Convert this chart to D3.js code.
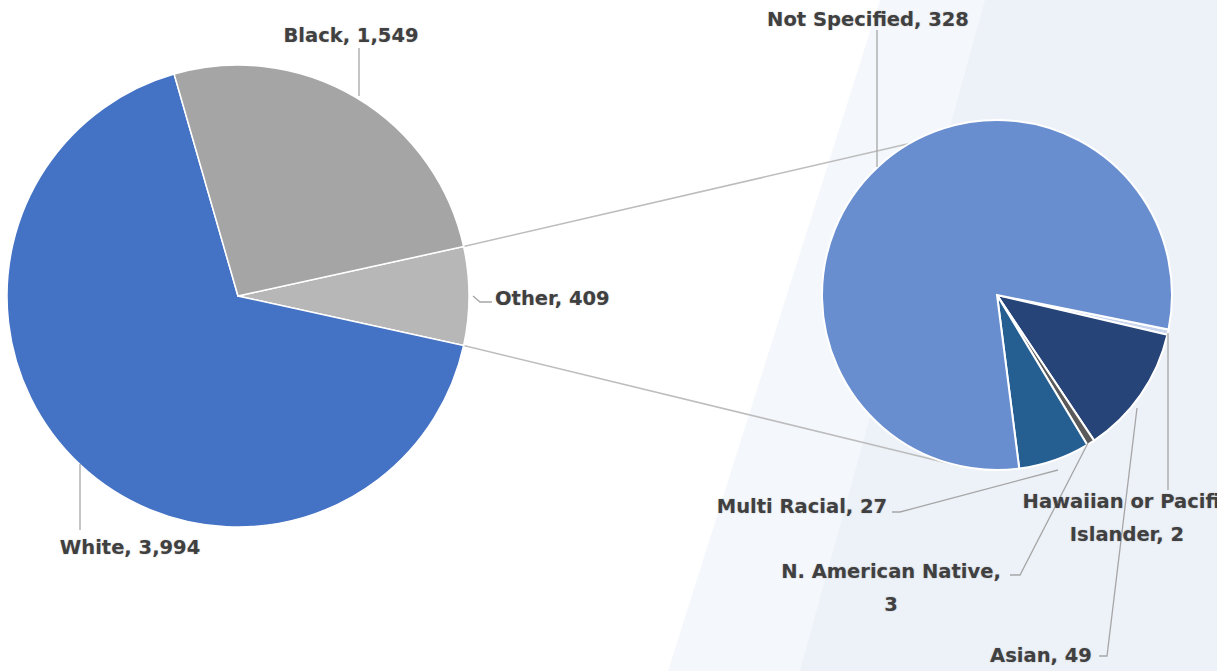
<!DOCTYPE html>
<html>
<head>
<meta charset="utf-8">
<script src="https://cdn.jsdelivr.net/npm/d3@7"></script>
<style>
  body { margin: 0; background: #fff; }
  svg { display: block; }
  text { font-family: "DejaVu Sans", "Open Sans", sans-serif; font-weight: 700; font-size: 19.5px; fill: #404040;
         text-shadow: 0 0 2px rgba(0,0,0,0.2); }
</style>
</head>
<body>
<svg width="1217" height="671"></svg>
<script>
// main pie: "Other" goes first so it sits on the right, facing the second pie
var mainLabels = ['Other', 'White', 'Black'],
    mainValues = [409, 3994, 1549],
    mainColors = ['#b7b7b7', '#4472c4', '#a5a5a5'];

// breakdown of "Other", clockwise from the split line
var subLabels = ['Hawaiian or Pacific Islander', 'Asian', 'N. American Native', 'Multi Racial', 'Not Specified'],
    subValues = [2, 49, 3, 27, 328],
    subColors = ['#c9d6ee', '#264478', '#5a5a5a', '#255e91', '#698ed0'];

var svg = d3.select('svg'),
    W = 1217, H = 671;

// soft diagonal bands in the background
svg.append('polygon').attr('points', '880,0 1217,0 1217,671 668,671').attr('fill', '#f4f7fb');
svg.append('polygon').attr('points', '985,0 1217,0 1217,671 800,671').attr('fill', '#edf1f8');

var c1 = [238, 296], r1 = 231,
    c2 = [997, 295], r2 = 175,
    rad = Math.PI / 180;

var total = d3.sum(mainValues),
    otherAngle = mainValues[0] / total * 2 * Math.PI,
    start1 = Math.PI / 2 - otherAngle / 2;

var pie1 = d3.pie().sort(null).startAngle(start1).endAngle(start1 + 2 * Math.PI)(mainValues);
var pie2 = d3.pie().sort(null).startAngle(101.4 * rad).endAngle(101.4 * rad + 2 * Math.PI)(subValues);

function pt(c, r, a) {
    return [c[0] + r * Math.sin(a), c[1] - r * Math.cos(a)];
}

// connector lines between the "Other" slice and the second pie
var lineG = svg.append('g').attr('fill', 'none').attr('stroke', '#bdbdbd').attr('stroke-width', 1.6);
var o = pie1[0];
var links = [[pt(c1, r1, o.startAngle), pt(c2, r2, -30 * rad)],
             [pt(c1, r1, o.endAngle), pt(c2, r2, 192 * rad)]];
links.forEach(function (l) {
    lineG.append('line').attr('x1', l[0][0]).attr('y1', l[0][1]).attr('x2', l[1][0]).attr('y2', l[1][1]);
});

var arc1 = d3.arc().innerRadius(0).outerRadius(r1),
    arc2 = d3.arc().innerRadius(0).outerRadius(r2);

svg.append('g').attr('transform', 'translate(' + c1 + ')')
    .selectAll('path').data(pie1).enter().append('path')
    .attr('d', arc1)
    .attr('fill', function (d, i) { return mainColors[i]; })
    .attr('stroke', '#fff').attr('stroke-width', 1.5);

svg.append('g').attr('transform', 'translate(' + c2 + ')')
    .selectAll('path').data(pie2).enter().append('path')
    .attr('d', arc2)
    .attr('fill', function (d, i) { return subColors[i]; })
    .attr('stroke', '#fff').attr('stroke-width', 2);

// label text lines and anchor spots
var fmt = d3.format(',');
var mainText = mainLabels.map(function (l, i) { return [l + ', ' + fmt(mainValues[i])]; });
var subText = [['Hawaiian or Pacific', 'Islander, ' + subValues[0]],
               ['Asian, ' + subValues[1]],
               ['N. American Native,', String(subValues[2])],
               ['Multi Racial, ' + subValues[3]],
               ['Not Specified, ' + subValues[4]]];

var mainPos = [{ x: 495, y: 305, anchor: 'start' }, { x: 130, y: 554 }, { x: 351, y: 42 }];
var subPos = [{ x: 1127, y: 508 }, { x: 1041, y: 662 }, { x: 891, y: 578 }, { x: 802, y: 513 }, { x: 868, y: 26 }];

// leader lines: arc point → label
var leaders = svg.append('g').attr('fill', 'none').attr('stroke', '#a6a6a6').attr('stroke-width', 1.3);
var lead1 = [
    [[473, 296], [480, 302], [492, 302]],
    [[80, 464], [80, 530]],
    [[359, 96], [359, 48]]
];
var lead2 = [
    [[1168, 333], [1168, 490]],
    [[1137, 408], [1107, 656], [1099, 656]],
    [[1088, 443], [1020, 575], [1010, 575]],
    [[1058, 470], [900, 512], [892, 512]],
    [[877, 167], [877, 30]]
];
lead1.concat(lead2).forEach(function (p) {
    leaders.append('path').attr('d', d3.line()(p));
});

function label(lines, p) {
    var t = svg.append('text').attr('text-anchor', p.anchor || 'middle');
    lines.forEach(function (s, i) {
        t.append('tspan').attr('x', p.x).attr('y', p.y + i * 33).text(s);
    });
}
mainText.forEach(function (t, i) { label(t, mainPos[i]); });
subText.forEach(function (t, i) { label(t, subPos[i]); });
</script>
</body>
</html>
